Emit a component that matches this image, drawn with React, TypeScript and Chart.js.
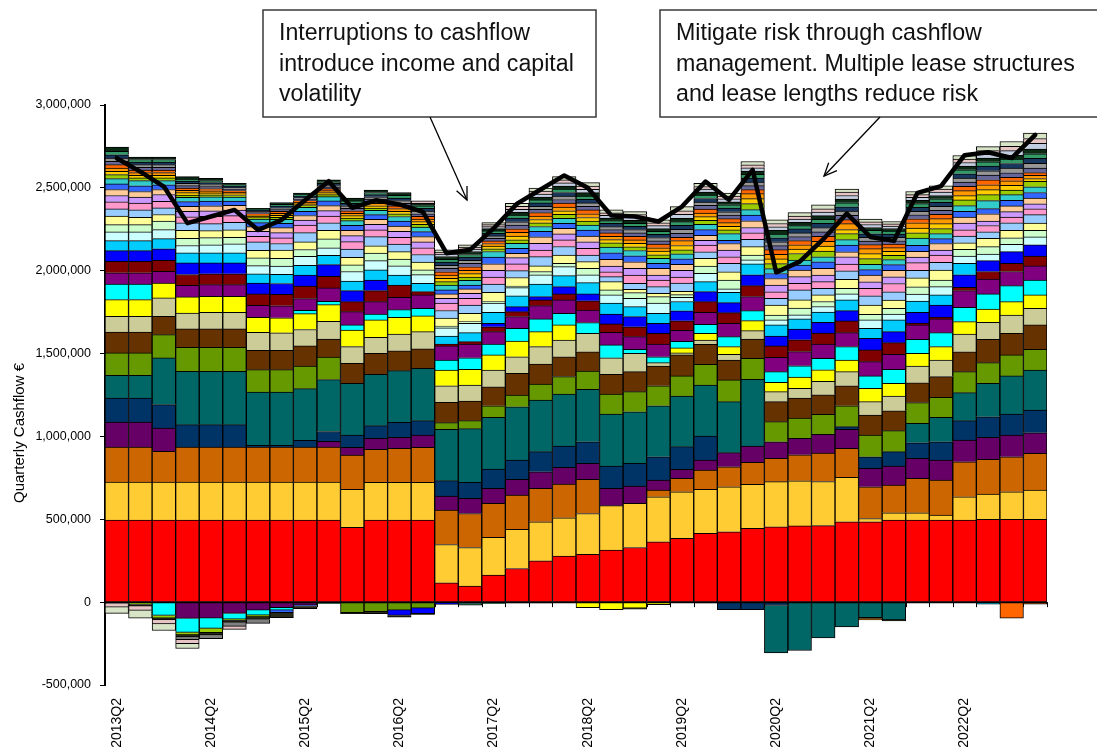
import React, { useEffect, useRef } from 'react';
import { Chart, registerables } from 'chart.js';

Chart.register(...registerables);

// ---------- DATA (values in thousands of euro) ----------
const UNIT = 1000;

const quarters = [
  '2013Q2','2013Q3','2013Q4','2014Q1','2014Q2','2014Q3','2014Q4','2015Q1','2015Q2','2015Q3',
  '2015Q4','2016Q1','2016Q2','2016Q3','2016Q4','2017Q1','2017Q2','2017Q3','2017Q4','2018Q1',
  '2018Q2','2018Q3','2018Q4','2019Q1','2019Q2','2019Q3','2019Q4','2020Q1','2020Q2','2020Q3',
  '2020Q4','2021Q1','2021Q2','2021Q3','2021Q4','2022Q1','2022Q2','2022Q3','2022Q4','2023Q1',
];

const red = [495,495,495,495,495,495,495,495,495,495, 451,495,495,495,117,97,163,203,250,278, 288,314,330,364,385,415,425,445,455,460, 462,485,485,495,495,495,495,499,499,499];
const gold = [230,230,230,230,230,230,230,230,230,230, 230,228,228,228,231,233,228,236,235,231, 247,268,266,272,281,266,271,266,272,272, 266,268,20,44,44,30,141,153,167,177];
const amber = [211,211,185,211,211,211,211,211,211,211, 207,199,205,211,208,205,205,207,202,204, 206,0,0,40,81,116,121,133,141,157, 171,175,191,168,208,212,211,210,211,222];
const plum = [151,151,141,-98,-96,-68,-48,-34,-18,34, 46,66,66,74,84,91,91,95,100,100, 96,105,104,61,54,60,85,98,100,100, 114,115,111,114,121,120,131,132,131,124];
const navy = [145,145,141,135,135,135,10,10,40,60, 74,77,91,87,93,97,116,116,121,129, 131,134,137,140,137,145,-45,-45,-20,0, 0,16,70,87,94,111,117,125,127,137];
const teal = [137,137,282,322,322,322,322,322,312,313, 313,310,312,316,310,324,312,322,312,314, 316,314,312,308,306,308,308,403,-286,-292, -216,-150,-94,-108,117,147,169,202,230,242];
const olive = [135,135,140,145,145,145,135,135,137,136, -64,-58,-48,-36,40,48,70,71,96,105, 111,121,121,121,121,125,131,127,121,121, 121,126,131,127,125,121,127,124,127,125];
const brown = [126,126,111,111,111,111,117,117,121,109, 120,127,120,117,123,119,115,131,121,120, 116,119,121,119,127,121,120,116,121,121, 117,121,121,120,120,125,120,141,130,147];
const khaki = [95,95,111,96,100,100,108,105,99,107, 101,96,101,104,100,96,101,100,105,101, 111,100,111,20,12,26,35,50,60,60, 81,85,81,89,101,100,107,103,111,100];
const yellow = [101,101,90,97,97,97,91,91,96,100, 100,105,101,95,95,95,91,95,90,91, -34,-46,-36,-15,30,40,46,61,57,67, 70,70,80,77,77,81,75,80,80,81];
const cyan = [94,94,-80,-84,-62,-34,-30,-14,20,20, 31,36,46,46,60,70,66,77,77,70, 65,77,24,36,40,55,60,60,64,68, 70,81,75,84,84,84,86,91,97,90];
const purple = [67,67,71,70,70,70,72,72,71,81, 80,74,75,81,85,83,74,70,80,81, 76,76,76,77,66,72,81,85,86,86, 85,84,86,91,87,83,101,89,85,85];
const maroon = [70,70,66,65,65,65,69,69,76,70, 60,67,74,20,12,14,30,30,35,36, 55,51,60,64,58,64,64,66,69,71, 66,71,71,70,10,10,20,46,50,60];
const blue = [64,64,69,70,66,66,66,66,65,71, 67,64,-32,-34,-14,-6,21,30,20,44, 42,60,61,61,60,61,60,65,60,65, 65,62,70,66,66,74,75,66,70,67];
const sky = [61,61,62,61,61,61,55,55,60,56, 58,61,60,50,48,54,66,65,76,66, 68,65,60,60,56,60,63,66,67,62, 62,65,61,71,68,61,70,-12,0,0];
const lightCyan = [52,52,54,44,48,54,50,50,54,45, 57,56,56,52,50,57,55,50,55,55, 47,50,51,61,26,50,20,24,30,24, 34,36,50,36,42,50,44,40,44,48];
const lightGreen = [44,44,51,44,44,40,46,46,41,54, 40,45,40,30,10,10,10,10,20,20, 40,30,34,40,16,44,54,30,30,40, 30,34,34,34,44,40,40,44,40,40];
const lightYellow = [51,44,40,48,42,44,46,50,46,52, 46,44,45,46,48,50,56,51,34,50, 40,50,20,20,20,46,50,50,60,50, 40,54,56,50,54,60,40,50,44,44];
const lightBlue = [44,46,40,45,42,46,51,40,56,45, 49,56,46,46,46,50,50,42,56,51, 40,30,36,40,50,40,50,44,40,60, 40,52,56,50,46,46,40,40,46,50];
const pink = [43,40,40,36,44,40,34,34,45,40, 46,40,40,40,44,41,42,40,40,40, 40,30,50,40,36,40,40,40,40,40, 40,40,44,50,46,44,38,38,34,36];
const lavender = [38,36,41,34,34,34,30,32,30,34, 36,34,36,36,30,30,40,38,40,36, 40,34,40,30,40,30,40,32,40,40, 40,44,40,40,34,30,40,26,34,30];
const peach = [36,34,30,30,30,28,28,30,28,30, 32,30,32,32,26,26,40,26,40,34, 34,40,40,40,36,30,40,40,40,40, 40,30,40,40,34,40,36,44,34,34];
const royal = [34,34,28,28,28,26,24,26,26,28, 30,28,30,30,24,24,40,30,32,30, 36,40,36,30,34,34,20,34,30,30, 40,40,34,34,36,30,36,32,34,34];
const turquoise = [32,32,26,26,26,24,22,24,24,26, 28,26,28,28,30,28,34,30,30,30, 30,34,32,30,30,32,40,34,30,30, 30,34,32,30,44,30,34,48,34,34];
const limeGreen = [24,16,16,14,12,10,8,12,10,12, 15,14,16,16,20,20,16,22,22,24, 24,26,22,22,24,24,22,36,30,40, 34,36,34,26,32,30,34,36,28,34];
const sunGold = [20,16,16,14,12,10,8,12,10,12, 15,14,16,16,20,20,16,22,20,22, 22,20,22,22,26,22,22,30,28,26, 30,24,30,24,28,30,26,30,28,16];
const orange = [20,16,16,14,12,10,8,12,10,12, 15,14,16,16,20,20,16,22,20,22, 22,20,20,20,30,22,22,30,28,26, 30,36,30,22,32,30,30,30,28,20];
const darkOrange = [20,16,16,14,14,10,8,12,10,12, 15,14,16,16,20,22,16,22,22,24, 24,20,22,22,20,24,24,24,28,26, 30,24,24,22,24,26,26,30,20,16];
const slate = [20,16,16,14,12,8,7,11,9,11, 15,13,16,16,20,20,16,22,20,22, 22,20,20,20,24,22,22,24,24,24, 26,26,22,20,24,24,26,28,28,28];
const grey = [20,16,16,14,12,10,7,11,9,11, 15,13,16,16,18,18,14,20,18,20, 20,18,20,20,24,20,20,22,24,22, 26,26,22,20,22,24,24,26,28,28];
const deepNavy = [20,16,16,14,12,8,6,10,9,10, 15,13,16,16,20,20,16,22,20,22, 22,20,20,20,24,22,22,24,24,24, 26,26,22,20,24,24,26,28,28,30];
const seaGreen = [20,15,15,12,12,8,6,10,9,10, 14,13,16,16,16,16,14,18,18,20, 20,16,18,18,22,20,20,22,22,20, 24,24,20,18,22,22,24,26,26,28];
const darkGreen = [26,14,14,15,14,10,7,11,9,11, 17,14,17,15,18,18,14,18,18,18, 20,16,18,16,20,18,18,20,22,20, 22,22,18,16,20,20,22,22,24,28];
const paleSteel = [0,0,0,0,0,0,0,0,0,0, 0,0,0,0,14,14,12,18,18,20, 20,16,18,18,24,18,18,20,22,20, 22,22,18,14,18,20,22,24,28,34];
const palePink = [0,0,0,0,0,0,0,0,0,0, 0,0,0,14,12,12,12,18,17,18, 20,16,17,17,22,16,16,18,20,18, 20,20,16,14,16,18,20,22,26,30];
const paleGreen = [0,0,0,0,0,0,0,0,0,0, 0,0,0,0,14,14,12,18,18,20, 21,17,18,18,25,20,18,20,22,21, 23,18,16,14,19,20,22,24,29,32];

// outflows of the smaller leases
const outLimeGreen = [0,-14,-16,-16,-26,-8,-10,0,0,0, 0,0,0,0,0,0,0,0,0,0, 0,0,0,0,0,0,0,0,0,0, 0,0,0,0,0,0,0,0,0,0];
const outRoyal = [0,0,0,0,0,0,0,-16,-8,0, 0,0,0,0,0,0,0,0,0,0, 0,0,0,0,0,0,0,0,0,0, 0,0,0,0,0,0,0,0,0,0];
const outSeaGreen = [0,0,0,0,0,0,0,0,0,-8, 0,0,0,0,0,-12,-8,0,0,0, 0,0,0,0,0,0,0,0,0,0, 0,0,0,0,0,0,0,0,0,0];
const outDark = [-6,-10,-10,-12,-14,-12,-16,-30,-14,0, -6,-12,-10,-4,0,0,0,0,0,0, 0,0,-6,0,0,0,0,0,0,0, 0,0,-4,-5,0,0,0,0,0,0];
const outGrey = [0,0,0,-16,-22,-24,-24,0,0,0, 0,0,0,0,0,0,0,-5,-5,0, 0,0,0,0,0,-5,0,0,0,0, 0,0,0,0,0,0,0,0,0,0];
const outOrange = [0,0,0,0,0,0,0,0,0,0, 0,0,0,0,0,0,0,0,0,0, 0,0,0,0,0,0,0,0,0,0, 0,0,-10,0,0,0,0,0,0,0];
const outDarkOrange = [0,0,0,0,0,0,0,0,0,0, 0,0,0,0,0,0,0,0,0,0, 0,0,0,0,0,0,0,0,0,0, 0,0,0,0,0,0,0,0,-96,0];
const outRust = [0,0,0,0,0,0,0,0,0,0, 0,0,0,0,0,0,0,0,0,0, 0,0,0,0,0,0,0,0,0,0, 0,0,0,0,0,0,0,0,0,-12];
const outPalePink = [-24,-26,-25,-24,0,-18,0,0,0,0, 0,0,0,0,0,0,0,0,0,0, 0,0,0,0,0,0,0,0,0,0, 0,0,0,0,0,0,0,0,0,0];
const outPaleGreen = [-38,-47,-40,-30,0,0,0,0,0,0, 0,0,0,0,0,0,0,0,0,0, 0,0,0,0,0,0,0,0,0,0, 0,0,0,0,0,0,0,0,0,0];

// net quarterly cashflow (black line)
const netCashflow = [2679,2598,2508,2287,2327,2367,2246,2307,2427,2540, 2380,2425,2400,2355,2106,2126,2255,2405,2490,2575, 2500,2333,2327,2297,2387,2538,2427,2609,1990,2055, 2190,2345,2204,2180,2470,2510,2697,2715,2680,2820];

const yTicks = [-500000, 0, 500000, 1000000, 1500000, 2000000, 2500000, 3000000];
const yTitle = 'Quarterly Cashflow €';

const noteLeft = ['Interruptions to cashflow', 'introduce income and capital', 'volatility'];
const noteRight = ['Mitigate risk through cashflow', 'management. Multiple lease structures', 'and lease lengths reduce risk'];

// ---------- SERIES (stack order bottom -> top) ----------
const series: { data: number[]; color: string }[] = [
  { data: red, color: '#FF0000' },
  { data: gold, color: '#FFCC33' },
  { data: amber, color: '#CC6600' },
  { data: plum, color: '#660066' },
  { data: navy, color: '#003366' },
  { data: teal, color: '#006666' },
  { data: olive, color: '#669900' },
  { data: brown, color: '#663300' },
  { data: khaki, color: '#CCCC99' },
  { data: yellow, color: '#FFFF00' },
  { data: cyan, color: '#00FFFF' },
  { data: purple, color: '#800080' },
  { data: maroon, color: '#800000' },
  { data: blue, color: '#0000FF' },
  { data: sky, color: '#00CCFF' },
  { data: lightCyan, color: '#CCFFFF' },
  { data: lightGreen, color: '#CCFFCC' },
  { data: lightYellow, color: '#FFFF99' },
  { data: lightBlue, color: '#99CCFF' },
  { data: pink, color: '#FF99CC' },
  { data: lavender, color: '#CC99FF' },
  { data: peach, color: '#FFCC99' },
  { data: royal, color: '#3366FF' },
  { data: turquoise, color: '#33CCCC' },
  { data: limeGreen, color: '#99CC00' },
  { data: sunGold, color: '#FFCC00' },
  { data: orange, color: '#FF9900' },
  { data: darkOrange, color: '#FF6600' },
  { data: slate, color: '#666699' },
  { data: grey, color: '#969696' },
  { data: deepNavy, color: '#17375E' },
  { data: seaGreen, color: '#339966' },
  { data: darkGreen, color: '#0B2A14' },
  { data: paleSteel, color: '#C3CDE0' },
  { data: palePink, color: '#E6C4C4' },
  { data: paleGreen, color: '#D8E4C6' },
  { data: outLimeGreen, color: '#99CC00' },
  { data: outRoyal, color: '#3366FF' },
  { data: outSeaGreen, color: '#339966' },
  { data: outDark, color: '#2A2A1A' },
  { data: outGrey, color: '#7F7F7F' },
  { data: outOrange, color: '#FF9900' },
  { data: outDarkOrange, color: '#FF6600' },
  { data: outRust, color: '#B45A14' },
  { data: outPalePink, color: '#E6C4C4' },
  { data: outPaleGreen, color: '#D8E4C6' },
];

const FONT = "'Liberation Sans', Arial, sans-serif";

const fmt = (v: number) => Math.round(v).toString().replace(/\B(?=(\d{3})+(?!\d))/g, ',');

const decor = {
  id: 'decor',
  beforeDatasetsDraw(chart: any) {
    const { ctx, scales } = chart;
    const xs = scales.x;
    const y0 = scales.y.getPixelForValue(0);
    const n = quarters.length;
    const w = (xs.right - xs.left) / n;
    ctx.save();
    ctx.strokeStyle = '#000';
    ctx.lineWidth = 1;
    for (let i = 0; i <= n; i++) {
      const x = Math.round(xs.left + i * w) + 0.5;
      ctx.beginPath();
      ctx.moveTo(x, y0);
      ctx.lineTo(x, y0 + 5);
      ctx.stroke();
    }
    ctx.restore();
  },
  afterDatasetsDraw(chart: any) {
    const { ctx, chartArea, scales } = chart;
    const y0 = scales.y.getPixelForValue(0);
    ctx.save();
    ctx.strokeStyle = '#000';
    ctx.lineWidth = 2;
    ctx.beginPath();
    ctx.moveTo(chartArea.left, y0);
    ctx.lineTo(chartArea.right, y0);
    ctx.stroke();
    ctx.restore();
  },
  afterDraw(chart: any) {
    const { ctx, chartArea } = chart;
    ctx.save();
    // axis title
    ctx.translate(20, (chartArea.top + chartArea.bottom) / 2 + 38);
    ctx.rotate(-Math.PI / 2);
    ctx.font = `15px ${FONT}`;
    ctx.fillStyle = '#000';
    ctx.textAlign = 'center';
    ctx.textBaseline = 'middle';
    ctx.fillText(yTitle, 0, 0);
    ctx.restore();

    const notes = [
      { lines: noteLeft, bx: 263, by: 10, bw: 333, bh: 107, tx: 279, fit: 295, ax1: 430, ay1: 117, ax2: 467, ay2: 200 },
      { lines: noteRight, bx: 660, by: 10, bw: 460, bh: 107, tx: 676, fit: 399, ax1: 880, ay1: 117, ax2: 824, ay2: 176 },
    ];
    notes.forEach((nt) => {
      ctx.save();
      ctx.fillStyle = '#fff';
      ctx.fillRect(nt.bx, nt.by, nt.bw, nt.bh);
      ctx.strokeStyle = '#3a3a3a';
      ctx.lineWidth = 1.5;
      ctx.strokeRect(nt.bx, nt.by, nt.bw, nt.bh);
      ctx.font = `100px ${FONT}`;
      let m = 0;
      nt.lines.forEach((l) => { m = Math.max(m, ctx.measureText(l).width); });
      const size = (100 * nt.fit) / m;
      ctx.font = `${size}px ${FONT}`;
      ctx.fillStyle = '#111';
      ctx.textAlign = 'left';
      ctx.textBaseline = 'middle';
      nt.lines.forEach((l, i) => ctx.fillText(l, nt.tx, 34 + i * 30.5));
      // arrow
      ctx.strokeStyle = '#000';
      ctx.lineWidth = 1.3;
      ctx.beginPath();
      ctx.moveTo(nt.ax1, nt.ay1);
      ctx.lineTo(nt.ax2, nt.ay2);
      ctx.stroke();
      const ang = Math.atan2(nt.ay2 - nt.ay1, nt.ax2 - nt.ax1);
      const hl = 14;
      ctx.beginPath();
      ctx.moveTo(nt.ax2 - hl * Math.cos(ang - 0.42), nt.ay2 - hl * Math.sin(ang - 0.42));
      ctx.lineTo(nt.ax2, nt.ay2);
      ctx.lineTo(nt.ax2 - hl * Math.cos(ang + 0.42), nt.ay2 - hl * Math.sin(ang + 0.42));
      ctx.stroke();
      ctx.restore();
    });
  },
};

export default function App() {
  const ref = useRef<HTMLCanvasElement>(null);

  useEffect(() => {
    if (!ref.current) return;
    Chart.defaults.font.family = FONT;
    Chart.defaults.color = '#000';

    const barSets: any[] = series.map((s, i) => ({
      type: 'bar',
      label: `Lease ${i + 1}`,
      data: s.data.map((v) => (v === 0 ? null : v * UNIT)),
      backgroundColor: s.color,
      borderColor: '#000',
      borderWidth: 1,
      barPercentage: 1,
      categoryPercentage: 1,
      stack: 'leases',
      order: 1,
    }));

    const lineSet: any = {
      type: 'line',
      label: 'Net cashflow',
      data: netCashflow.map((v) => v * UNIT),
      borderColor: '#000',
      borderWidth: 4.5,
      pointRadius: 0,
      tension: 0,
      fill: false,
      stack: 'net',
      order: 0,
      borderJoinStyle: 'round',
      borderCapStyle: 'round',
    };

    const chart = new Chart(ref.current, {
      type: 'bar',
      data: { labels: quarters, datasets: [...barSets, lineSet] },
      options: {
        responsive: false,
        animation: false,
        devicePixelRatio: 1,
        layout: { padding: { top: 105, right: 50, bottom: 0, left: 0 } },
        plugins: { legend: { display: false }, tooltip: { enabled: false } },
        scales: {
          x: {
            stacked: true,
            grid: { display: false, drawTicks: false },
            border: { display: false },
            ticks: {
              autoSkip: false,
              maxRotation: 90,
              minRotation: 90,
              padding: 13,
              font: { size: 14, family: FONT },
              color: '#000',
              callback: (_v: any, i: number) => (i % 4 === 0 ? quarters[i] : ''),
            },
            afterFit: (s: any) => { s.height = 68; },
          },
          y: {
            stacked: true,
            min: yTicks[0],
            max: yTicks[yTicks.length - 1],
            afterBuildTicks: (s: any) => { s.ticks = yTicks.map((v) => ({ value: v })); },
            grid: { display: true, drawOnChartArea: false, drawTicks: true, tickLength: 5, color: '#000', lineWidth: 1 },
            border: { display: true, color: '#000', width: 2 },
            ticks: {
              padding: 9,
              font: { size: 12.5, family: FONT },
              color: '#000',
              callback: (v: any) => fmt(Number(v)),
            },
            afterFit: (s: any) => { s.width = 105; },
          },
        },
      },
      plugins: [decor],
    } as any);

    return () => chart.destroy();
  }, []);

  return (
    <div style={{ position: 'fixed', left: 0, top: 0, width: 1097, height: 753, background: '#fff' }}>
      <canvas ref={ref} width={1097} height={753} style={{ display: 'block' }} />
    </div>
  );
}
